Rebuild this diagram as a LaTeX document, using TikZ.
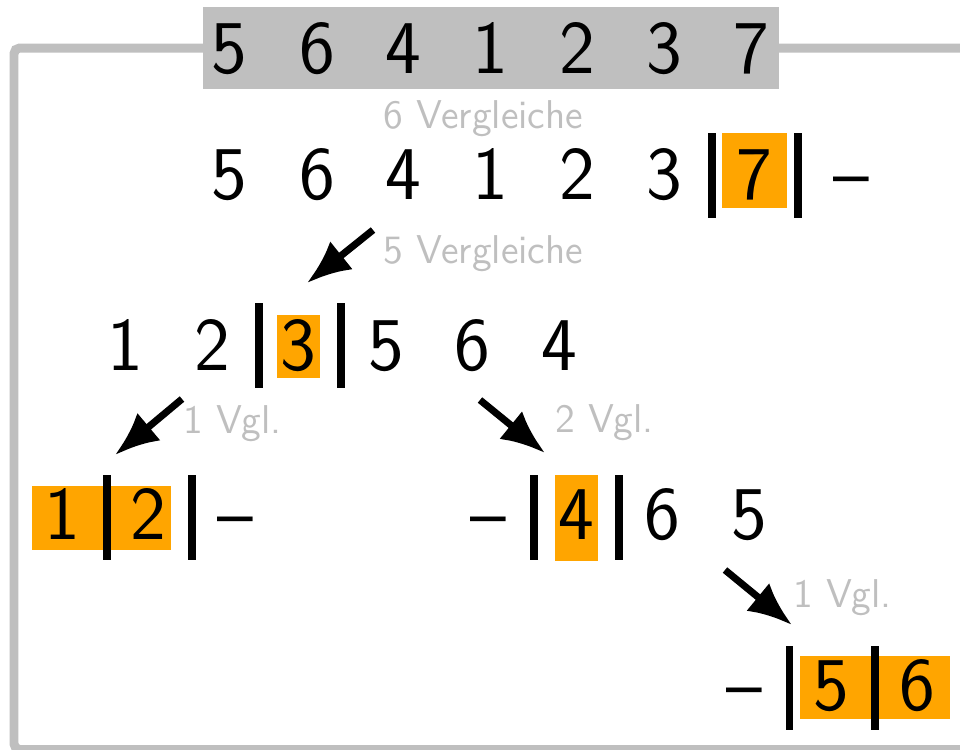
\documentclass[tikz,border=0pt]{standalone}
\usetikzlibrary{arrows.meta}
\definecolor{pivotorange}{HTML}{FFA500}
\definecolor{lightgrey}{HTML}{BFBFBF}
\tikzset{
    num/.style={font=\sffamily\fontsize{27}{32}\selectfont, anchor=base, inner sep=0pt},
    cmp/.style={font=\sffamily\fontsize{14.3}{17}\selectfont, text=lightgrey, anchor=base west, inner sep=0pt},
    bar/.style={line width=2.5pt},
    pivotbox/.style={fill=pivotorange},
    recarrow/.style={line width=2.5pt, -{Latex[length=5.5mm,width=4.5mm]}}
}
\begin{document}
\begin{tikzpicture}[x=0.125mm, y=-0.125mm]
            \useasboundingbox (0,0) rectangle (960,749);

            \draw[lightgrey, line width=3.2pt, rounded corners=2pt] (960,48) -- (14,48) -- (14,749.5) -- (960,749.5);
            \fill[lightgrey] (203,7) rectangle (779,89);
            \node[num] (t1) at (229,73) {5};
            \node[num] (t2) at (317,73) {6};
            \node[num] (t3) at (403,73) {4};
            \node[num] (t4) at (490,73) {1};
            \node[num] (t5) at (577,73) {2};
            \node[num] (t6) at (664,73) {3};
            \node[num] (t7) at (751,73) {7};

            \node[cmp] (l1) at (383,128) {6 Vergleiche};
            \fill[pivotbox] (722,133) rectangle (787,208);
            \draw[bar] (712,133) -- (712,218);
            \draw[bar] (798,133) -- (798,218);
            \node[num] (a1) at (229,199) {5};
            \node[num] (a2) at (317,199) {6};
            \node[num] (a3) at (403,199) {4};
            \node[num] (a4) at (490,199) {1};
            \node[num] (a5) at (577,199) {2};
            \node[num] (a6) at (664,199) {3};
            \node[num] (a7) at (754,199) {7};
            \node[num] (a8) at (851,199) {--};

            \coordinate (P1) at (373,230);
            \coordinate (Q1) at (307,283);
            \draw[recarrow] (P1) -- (Q1);
            \node[cmp] (l2) at (383,263) {5 Vergleiche};

            \fill[pivotbox] (277,315) rectangle (320,378);
            \draw[bar] (259,303) -- (259,388);
            \draw[bar] (341,303) -- (341,388);
            \node[num] (b1) at (125,370) {1};
            \node[num] (b2) at (212,370) {2};
            \node[num] (b3) at (298,370) {3};
            \node[num] (b4) at (386,370) {5};
            \node[num] (b5) at (472,370) {6};
            \node[num] (b6) at (559,370) {4};

            \coordinate (P2) at (182,399);
            \coordinate (Q2) at (115,455);
            \draw[recarrow] (P2) -- (Q2);
            \node[cmp] (l3) at (183,433) {1 Vgl.};
            \coordinate (P3) at (480,400);
            \coordinate (Q3) at (545,453);
            \draw[recarrow] (P3) -- (Q3);
            \node[cmp] (l4) at (555,432) {2 Vgl.};

            \fill[pivotbox] (32,486) rectangle (171,550);
            \draw[bar] (107,475) -- (107,560);
            \draw[bar] (192,475) -- (192,560);
            \node[num] (c1) at (62,539) {1};
            \node[num] (c2) at (148,539) {2};
            \node[num] (c3) at (235.5,539) {--};

            \fill[pivotbox] (555,475) rectangle (598,561);
            \draw[bar] (534,475) -- (534,560);
            \draw[bar] (619,475) -- (619,560);
            \node[num] (d1) at (488,539) {--};
            \node[num] (d2) at (576,539) {4};
            \node[num] (d3) at (662,539) {6};
            \node[num] (d4) at (749,539) {5};

            \coordinate (P4) at (725,570);
            \coordinate (Q4) at (792,625);
            \draw[recarrow] (P4) -- (Q4);
            \node[cmp] (l5) at (793,607) {1 Vgl.};

            \fill[pivotbox] (800,656) rectangle (950,719);
            \draw[bar] (789.5,646) -- (789.5,730);
            \draw[bar] (875,646) -- (875,730);
            \node[num] (e1) at (744,710) {--};
            \node[num] (e2) at (831,710) {5};
            \node[num] (e3) at (917,710) {6};
\end{tikzpicture}
\end{document}
